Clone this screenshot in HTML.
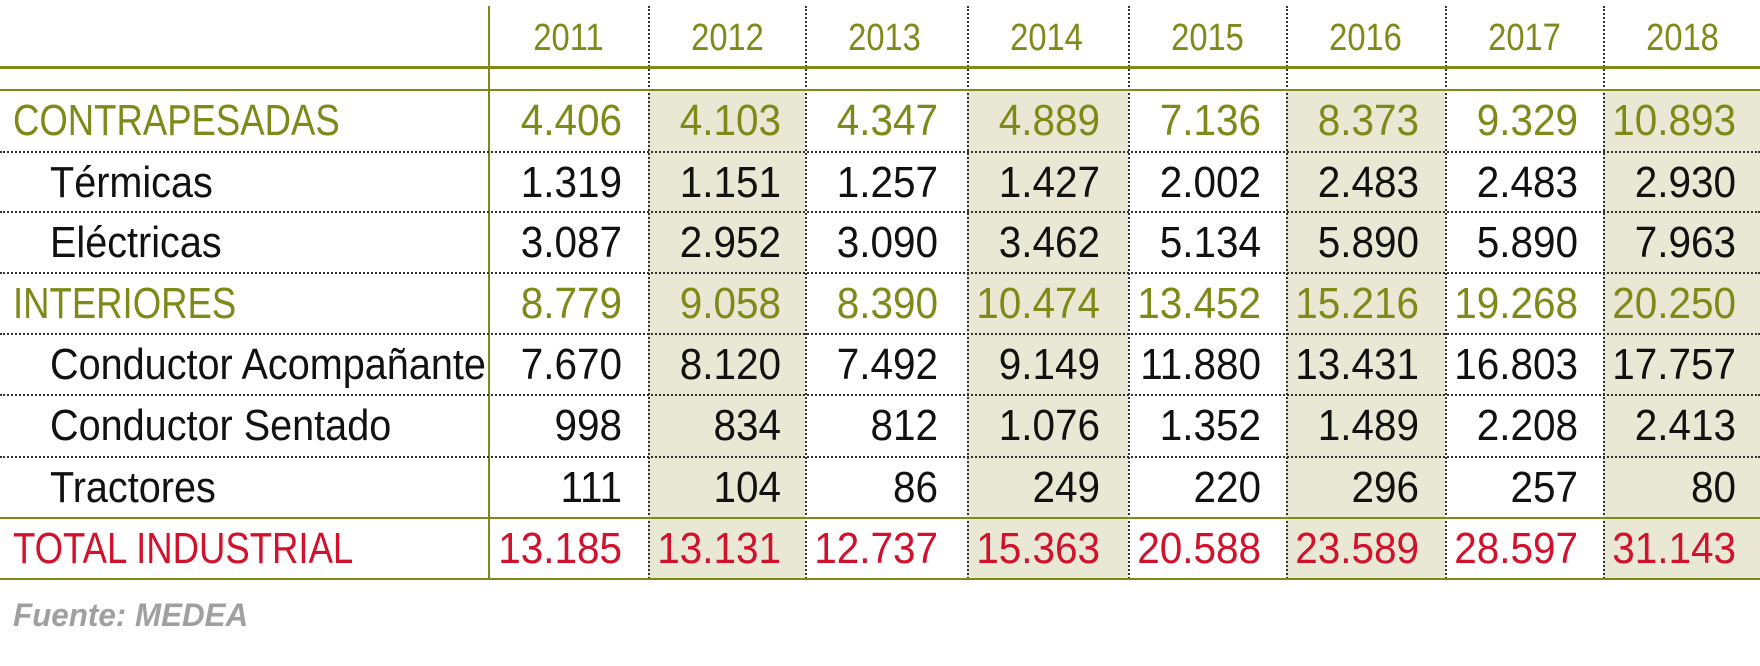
<!DOCTYPE html>
<html><head><meta charset="utf-8"><style>
body{margin:0;width:1760px;height:666px;background:#fff;position:relative;overflow:hidden;font-family:"Liberation Sans",sans-serif;}
.a{position:absolute}
.sh{position:absolute;background:#e9e8d4;top:90px;height:489px;width:159px}
.vd{position:absolute;top:6px;height:573px;border-left:2px dotted #333;width:0}
.hd{position:absolute;left:0;width:1760px;border-top:2px dotted #333;height:0}
.ho{position:absolute;left:0;width:1760px;background:#7d8a18}
.r{position:absolute;height:61px;line-height:61px;font-size:44px;white-space:nowrap;transform-origin:left center}
.n{text-align:right;width:140px;transform-origin:right center;transform:scaleX(0.92)}
.y{position:absolute;top:10px;height:57px;line-height:57px;font-size:38px;color:#7d8a18;width:159px;text-align:center;transform:scaleX(0.86)}
.g{color:#7d8a18}.k{color:#111}.red{color:#d2112c}
</style></head><body>
<div class="sh" style="left:648px;width:157px"></div>
<div class="sh" style="left:967px;width:161px"></div>
<div class="sh" style="left:1286px;width:159px"></div>
<div class="sh" style="left:1603px;width:157px"></div>
<div class="a" style="left:488px;top:6px;width:2px;height:573px;background:#7d8a18"></div>
<div class="vd" style="left:648px"></div><div class="vd" style="left:805px"></div><div class="vd" style="left:967px"></div><div class="vd" style="left:1128px"></div><div class="vd" style="left:1286px"></div><div class="vd" style="left:1445px"></div><div class="vd" style="left:1603px"></div>
<div class="ho" style="top:66px;height:3px"></div>
<div class="ho" style="top:89px;height:2px"></div>
<div class="hd" style="top:151px"></div><div class="hd" style="top:211px"></div><div class="hd" style="top:272px"></div><div class="hd" style="top:333px"></div><div class="hd" style="top:394px"></div><div class="hd" style="top:456px"></div>
<div class="ho" style="top:517px;height:2px"></div>
<div class="ho" style="top:578px;height:2px"></div>
<div class="y" style="left:489px">2011</div><div class="y" style="left:648px">2012</div><div class="y" style="left:805px">2013</div><div class="y" style="left:967px">2014</div><div class="y" style="left:1128px">2015</div><div class="y" style="left:1286px">2016</div><div class="y" style="left:1445px">2017</div><div class="y" style="left:1603px">2018</div>
<div id="rows"></div>
<div class="a" style="left:13px;top:597px;font-size:32px;font-style:italic;font-weight:bold;color:#a0a0a0;transform:scaleX(0.98);transform-origin:left center">Fuente: MEDEA</div>
<script>
var rows=[
["CONTRAPESADAS","g",13,0.83,["4.406","4.103","4.347","4.889","7.136","8.373","9.329","10.893"]],
["Térmicas","k",50,0.9,["1.319","1.151","1.257","1.427","2.002","2.483","2.483","2.930"]],
["Eléctricas","k",50,0.9,["3.087","2.952","3.090","3.462","5.134","5.890","5.890","7.963"]],
["INTERIORES","g",13,0.83,["8.779","9.058","8.390","10.474","13.452","15.216","19.268","20.250"]],
["Conductor Acompañante","k",50,0.9,["7.670","8.120","7.492","9.149","11.880","13.431","16.803","17.757"]],
["Conductor Sentado","k",50,0.9,["998","834","812","1.076","1.352","1.489","2.208","2.413"]],
["Tractores","k",50,0.9,["111","104","86","249","220","296","257","80"]],
["TOTAL INDUSTRIAL","red",13,0.83,["13.185","13.131","12.737","15.363","20.588","23.589","28.597","31.143"]]];
var tops=[90,152,212,273,334,395,457,518];
var rights=[622,781,938,1100,1261,1419,1578,1736];
var h="";
rows.forEach(function(r,i){
h+='<div class="r '+r[1]+'" style="left:'+r[2]+'px;top:'+tops[i]+'px;transform:scaleX('+r[3]+')">'+r[0]+'</div>';
r[4].forEach(function(v,j){h+='<div class="r n '+r[1]+'" style="left:'+(rights[j]-140)+'px;top:'+tops[i]+'px">'+v+'</div>';});
});
document.getElementById("rows").innerHTML=h;
</script>
</body></html>
